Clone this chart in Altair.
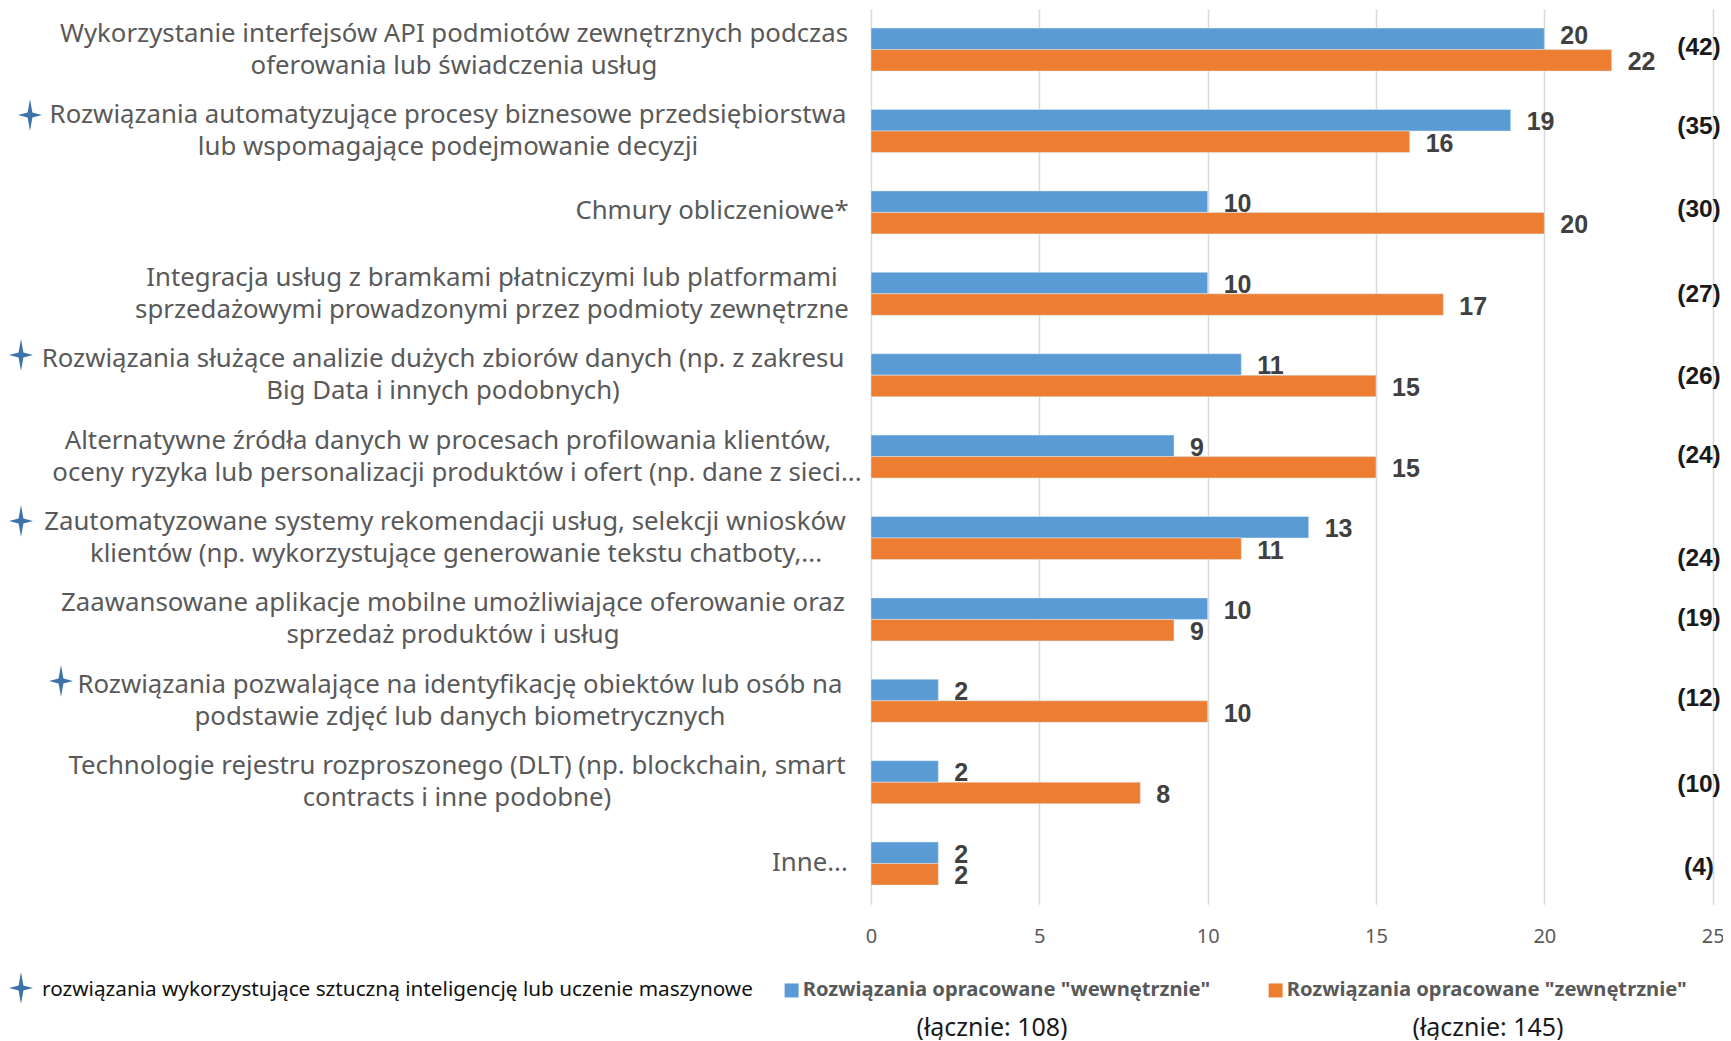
import altair as alt
import pandas as pd

row_lines = [
    ["Wykorzystanie interfejsów API podmiotów zewnętrznych podczas", "oferowania lub świadczenia usług"],
    ["Rozwiązania automatyzujące procesy biznesowe przedsiębiorstwa", "lub wspomagające podejmowanie decyzji"],
    ["Chmury obliczeniowe*"],
    ["Integracja usług z bramkami płatniczymi lub platformami", "sprzedażowymi prowadzonymi przez podmioty zewnętrzne"],
    ["Rozwiązania służące analizie dużych zbiorów danych (np. z zakresu", "Big Data i innych podobnych)"],
    ["Alternatywne źródła danych w procesach profilowania klientów,", "oceny ryzyka lub personalizacji produktów i ofert (np. dane z sieci..."],
    ["Zautomatyzowane systemy rekomendacji usług, selekcji wniosków", "klientów (np. wykorzystujące generowanie tekstu chatboty,..."],
    ["Zaawansowane aplikacje mobilne umożliwiające oferowanie oraz", "sprzedaż produktów i usług"],
    ["Rozwiązania pozwalające na identyfikację obiektów lub osób na", "podstawie zdjęć lub danych biometrycznych"],
    ["Technologie rejestru rozproszonego (DLT) (np. blockchain, smart", "contracts i inne podobne)"],
    ["Inne..."],
]
inside = [20, 19, 10, 10, 11, 9, 13, 10, 2, 2, 2]
outside = [22, 16, 20, 17, 15, 15, 11, 9, 10, 8, 2]
totals = ["(42)", "(35)", "(30)", "(27)", "(26)", "(24)", "(24)", "(19)", "(12)", "(10)", "(4)"]
series = ['Rozwiązania opracowane "wewnętrznie"', 'Rozwiązania opracowane "zewnętrznie"']
sum_labels = ["(łącznie: 108)", "(łącznie: 145)"]
note = "rozwiązania wykorzystujące sztuczną inteligencję lub uczenie maszynowe"

# layout (page pixels)
X0, Y0 = 871, 8.9
W, H = 841.7, 895.4
line_centers = [
    [454, 454], [448, 448], [712], [492, 492], [443, 443], [448, 457], [445, 456],
    [453, 453], [460, 460], [457, 457], [810],
]
total_dy = [-2.1, -4.5, -2.9, 1.5, 1.5, -0.1, 21, 0.1, -1.3, 3.3, 4.5]
total_x = [1699] * 10 + [1699]
star_pos = [(30, 115), (21, 355), (21, 521), (61, 681), (21, 988)]
STAR = "M0,-1 L0.15,-0.16 L0.75,0 L0.15,0.16 L0,1 L-0.15,0.16 L-0.75,0 L-0.15,-0.16 Z"
FONT = "Noto Sans"
GREY = "#595959"

cats = [" ".join(l) for l in row_lines]
bars = pd.DataFrame(
    [{"cat": c, "series": series[0], "v": a} for c, a in zip(cats, inside)]
    + [{"cat": c, "series": series[1], "v": b} for c, b in zip(cats, outside)]
)

ysc = alt.Scale(domain=cats, paddingInner=0.472, paddingOuter=0.236)
y = alt.Y("cat:N", scale=ysc, axis=None, title=None)
yo = alt.YOffset("series:N", sort=series)
xsc = alt.Scale(domain=[0, 25], nice=False)

bar = alt.Chart(bars).mark_bar(stroke="#dcecf8", strokeWidth=0.5).encode(
    x=alt.X(
        "v:Q", scale=xsc, title=None,
        axis=alt.Axis(
            values=[0, 5, 10, 15, 20, 25], grid=True, gridColor="#d9d9d9", gridWidth=1.5,
            domain=False, ticks=False, labelFont=FONT, labelFontSize=20, labelColor=GREY,
            labelPadding=22, labelFlush=False,
        ),
    ),
    y=y,
    yOffset=yo,
    color=alt.Color(
        "series:N", scale=alt.Scale(domain=series, range=["#5b9bd5", "#ed7d31"]),
        legend=alt.Legend(
            orient="none", legendX=781.5 - X0, legendY=980 - Y0, direction="horizontal", columns=2,
            title=None, symbolType="square", symbolSize=196, symbolStrokeWidth=0,
            labelFont=FONT, labelFontSize=20.2, labelFontWeight="bold", labelColor=GREY,
            labelLimit=0, labelOffset=1, columnPadding=55, padding=0,
        ),
    ),
)


def values(frame, dy):
    return alt.Chart(frame).mark_text(
        align="left", baseline="middle", dx=16, dy=dy, font="Liberation Sans",
        fontWeight="bold", fontSize=25, color="#404040",
    ).encode(x=alt.X("v:Q", scale=xsc), y=y, yOffset=yo, text="v:Q")


first = (bars["cat"] == cats[0]) & (bars["series"] == series[0])
layers = [bar, values(bars[~first], 2), values(bars[first], -3)]

for cat, lines, centers in zip(cats, row_lines, line_centers):
    offs = [-16, 16] if len(lines) == 2 else [-1]
    for line, cx, off in zip(lines, centers, offs):
        layers.append(
            alt.Chart(pd.DataFrame({"cat": [cat], "t": [line]})).mark_text(
                align="center", baseline="middle", dy=off, font=FONT, fontSize=25.8, color=GREY,
            ).encode(x=alt.value(cx - X0), y=y, text="t:N")
        )

for cat, t, off, tx in zip(cats, totals, total_dy, total_x):
    layers.append(
        alt.Chart(pd.DataFrame({"cat": [cat], "t": [t]})).mark_text(
            align="center", baseline="middle", dy=off, font="Liberation Sans",
            fontWeight="bold", fontSize=24.5, color="#1a1a1a",
        ).encode(x=alt.value(tx - X0), y=y, text="t:N")
    )

for sx, sy in star_pos:
    layers.append(
        alt.Chart(pd.DataFrame({"k": [0]})).mark_point(
            shape=STAR, size=1024, filled=True, color="#3d73a8", opacity=1, strokeWidth=0,
        ).encode(x=alt.value(sx - X0), y=alt.value(sy - Y0))
    )


def free_text(t, px, py, align, size, color):
    return alt.Chart(pd.DataFrame({"t": [t]})).mark_text(
        align=align, baseline="middle", font=FONT, fontSize=size, color=color,
    ).encode(x=alt.value(px - X0), y=alt.value(py - Y0), text="t:N")


layers.append(free_text(note, 42, 990, "left", 20.75, "#111111"))
layers.append(free_text(sum_labels[0], 992, 1028, "center", 25, "#1a1a1a"))
layers.append(free_text(sum_labels[1], 1488, 1028, "center", 25, "#1a1a1a"))

chart = alt.layer(*layers).resolve_scale(y="shared", x="shared").properties(
    width=W, height=H,
    autosize=alt.AutoSizeParams(type="none"),
    padding={"left": X0 - 8, "top": Y0 - 8, "right": 10, "bottom": 136},
    background="white",
).configure_view(stroke=None)

chart.save("out.html", embed_options={"renderer": "svg", "actions": False})
